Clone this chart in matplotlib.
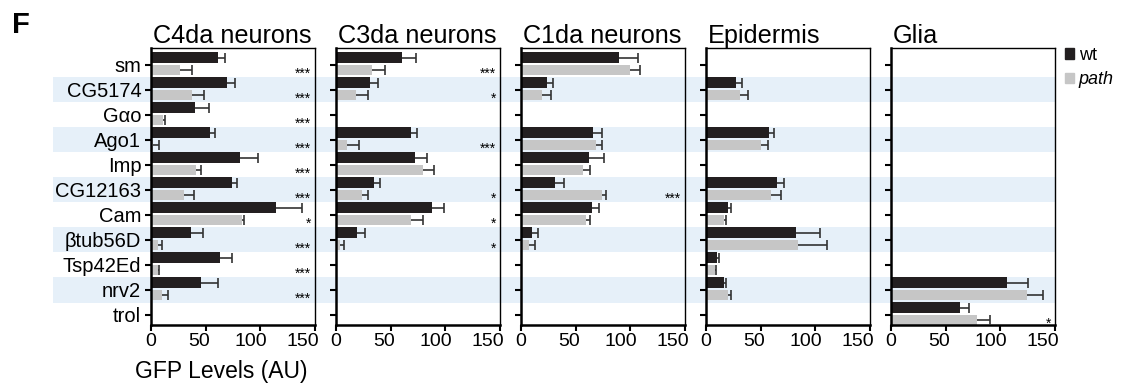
import numpy as np
import matplotlib
matplotlib.use("Agg")
import matplotlib.pyplot as plt
import matplotlib.transforms as mtransforms
from matplotlib.patches import Patch

plt.rcParams['font.family'] = ['Liberation Sans', 'DejaVu Sans']

genes = ["sm", "CG5174", "Gαo", "Ago1", "Imp", "CG12163", "Cam",
         "βtub56D", "Tsp42Ed", "nrv2", "trol"]
panels = ["C4da neurons", "C3da neurons", "C1da neurons", "Epidermis", "Glia"]
N = np.nan

# means and SEM (one-sided) per tissue, wt then path
c4_wt = [61, 69.5, 40, 54, 81.5, 74, 114.5, 36.5, 63, 45.5, N]
c4_wt_err = [6.5, 7, 13.5, 4.5, 16, 4.5, 24, 11.5, 11, 16, N]
c4_path = [26.5, 37.5, 11, 1.5, 41, 30, 83.5, 6, 6, 10.5, N]
c4_path_err = [11, 11, 1.5, 6, 5, 9.5, 1.5, 4, 1.5, 5.5, N]
c4_sig = ["***", "***", "***", "***", "***", "***", "*", "***", "***", "***", ""]

c3_wt = [60, 31, N, 68.5, 72, 34.5, 87.5, 19, N, N, N]
c3_wt_err = [13.5, 7, N, 5.5, 11.5, 6, 11.5, 7.5, N, N, N]
c3_path = [32.5, 18, N, 10.5, 80, 23.5, 68.5, 3.5, N, N, N]
c3_path_err = [12.5, 11, N, 10.5, 10, 5.5, 11, 4, N, N, N]
c3_sig = ["***", "*", "", "***", "", "*", "*", "*", "", "", ""]

c1_wt = [89.5, 23.5, N, 65.5, 62, 31, 64.5, 10, N, N, N]
c1_wt_err = [17.5, 6, N, 8.5, 14, 8.5, 6.5, 6, N, N, N]
c1_path = [99.5, 19, N, 69, 57, 74, 59.5, 7.5, N, N, N]
c1_path_err = [9.5, 8, N, 5, 6.5, 4, 3.5, 5.5, N, N, N]
c1_sig = ["", "", "", "", "", "***", "", "", "", "", ""]

ep_wt = [N, 27, N, 57.5, N, 64.5, 20, 82.5, 10, 16.5, N]
ep_wt_err = [N, 6, N, 5, N, 7, 3, 22, 1.5, 2, N]
ep_path = [N, 31.5, N, 50.5, N, 59.5, 16.5, 84, 8, 20, N]
ep_path_err = [N, 7, N, 6.5, N, 9.5, 2, 26.5, 1.5, 3, N]
ep_sig = [""] * 11

gl_wt = [N, N, N, N, N, N, N, N, N, 106.5, 63.5]
gl_wt_err = [N, N, N, N, N, N, N, N, N, 18.5, 8]
gl_path = [N, N, N, N, N, N, N, N, N, 124, 79]
gl_path_err = [N, N, N, N, N, N, N, N, N, 15, 12]
gl_sig = [""] * 10 + ["*"]

data = [
    (c4_wt, c4_wt_err, c4_path, c4_path_err, c4_sig),
    (c3_wt, c3_wt_err, c3_path, c3_path_err, c3_sig),
    (c1_wt, c1_wt_err, c1_path, c1_path_err, c1_sig),
    (ep_wt, ep_wt_err, ep_path, ep_path_err, ep_sig),
    (gl_wt, gl_wt_err, gl_path, gl_path_err, gl_sig),
]

xticks = [0, 50, 100, 150]
# the original figure has its tick labels nudged left (in points)
xtick_shift = [0, -4.5, -7, -8.5]

WT_COL = "#231f20"
PATH_COL = "#c6c6c6"
BAND_COL = "#e6f0f9"
W, H = 1126, 385
YLIM = (10.4, -0.68)


def fig_rect(x0, y0, x1, y1):
    # pixel box (top-left origin) -> figure fraction
    return [x0 / W, 1 - y1 / H, (x1 - x0) / W, (y1 - y0) / H]


def one_sided(ax, x, yy, err):
    _, caps, _ = ax.errorbar(x, yy, xerr=[np.zeros(len(x)), err], fmt="none",
                             ecolor="#333333", elinewidth=1.2, capsize=3.5,
                             capthick=1.2, zorder=3)
    caps[0].set_visible(False)


fig = plt.figure(figsize=(W / 100, H / 100), dpi=100)

# background stripes shared by all panels
bg = fig.add_axes(fig_rect(53, 48, 1055, 325), zorder=0)
bg.set_ylim(*YLIM)
bg.set_xlim(0, 1)
bg.axis("off")
y = np.arange(len(genes))
for yi in y[1::2]:
    bg.axhspan(yi - 0.53, yi + 0.5, color=BAND_COL, lw=0)

lefts = [151, 336, 521, 706, 891]
for i, (title, (wt, wt_err, pa, pa_err, sig)) in enumerate(zip(panels, data)):
    ax = fig.add_axes(fig_rect(lefts[i], 48, lefts[i] + 164, 325), zorder=1)
    ax.set_facecolor("none")
    wt = np.array(wt, float); pa = np.array(pa, float)
    wt_err = np.array(wt_err, float); pa_err = np.array(pa_err, float)
    m1 = ~np.isnan(wt)
    m2 = ~np.isnan(pa)
    ax.barh(y[m1] - 0.29, wt[m1], height=0.42, color=WT_COL, zorder=2)
    ax.barh(y[m2] + 0.2, pa[m2], height=0.42, color=PATH_COL, zorder=2)
    one_sided(ax, wt[m1], y[m1] - 0.29, wt_err[m1])
    one_sided(ax, pa[m2], y[m2] + 0.2, pa_err[m2])
    for yi, s in zip(y, sig):
        if s:
            ax.text(146.5, yi + 0.52, s, ha="right", va="baseline", fontsize=10)
    ax.set_xlim(0, 150)
    ax.set_ylim(*YLIM)
    ax.set_xticks(xticks)
    ax.set_yticks(y)
    if i == 0:
        ax.set_yticklabels(genes, fontsize=14.5)
    else:
        ax.set_yticklabels([])
    ax.tick_params(axis="x", labelsize=14, length=4, width=1.5, pad=2)
    ax.tick_params(axis="y", length=4, width=1.5, pad=3)
    for lab, dx in zip(ax.get_xticklabels(), xtick_shift):
        lab.set_transform(lab.get_transform() +
                          mtransforms.ScaledTranslation(dx / 72, 0, fig.dpi_scale_trans))
    for side in ["left", "bottom"]:
        ax.spines[side].set_linewidth(1.8)
    for side in ["top", "right"]:
        ax.spines[side].set_linewidth(1.0)
    ax.set_title(title, loc="left", fontsize=18.2, pad=3, x=0.01)

fig.text(135 / W, 1 - 378 / H, "GFP Levels (AU)", fontsize=16.5, ha="left", va="baseline")
fig.text(12 / W, 1 - 33 / H, "F", fontsize=21, fontweight="bold", ha="left", va="baseline")

handles = [Patch(color=WT_COL), Patch(color=PATH_COL)]
leg = fig.legend(handles, ["wt", "path"], loc="upper left",
                 bbox_to_anchor=(1065 / W, 1 - 47 / H), frameon=False,
                 fontsize=13, handlelength=0.5, handleheight=0.5,
                 handletextpad=0.25, borderpad=0, borderaxespad=0, labelspacing=0.4)
leg.get_texts()[1].set_fontstyle("italic")

fig.savefig("out.png", dpi=100, facecolor="white")
